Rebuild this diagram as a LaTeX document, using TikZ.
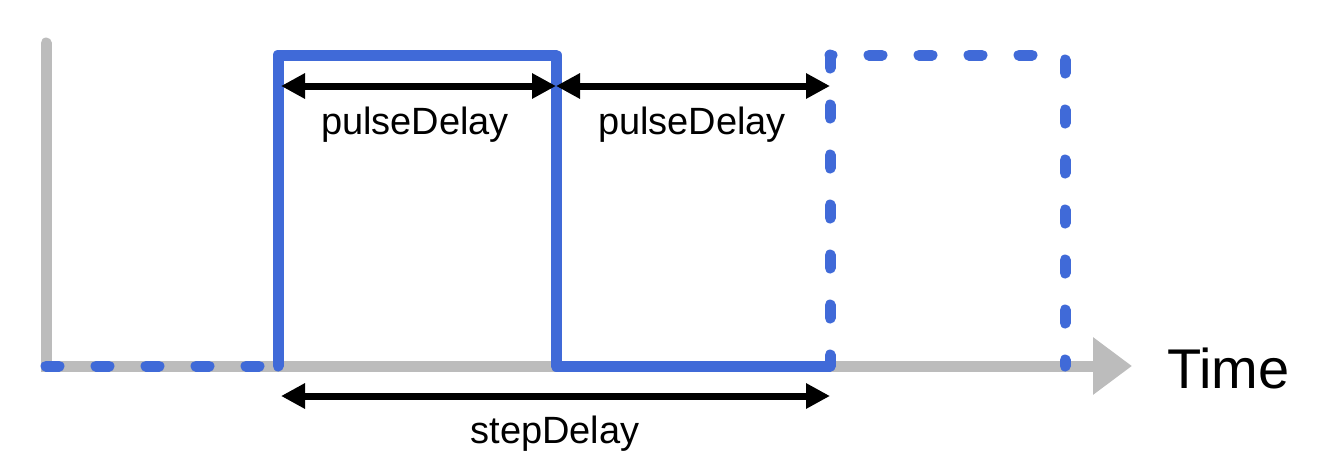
\documentclass[tikz,border=0pt]{standalone}
\usepackage{fontspec}
\setmainfont{Liberation Sans}
\usetikzlibrary{arrows.meta}
\definecolor{axisgrey}{RGB}{188,188,188}
\definecolor{pulseblue}{RGB}{64,106,216}
\begin{document}
\begin{tikzpicture}[x=1pt, y=-1pt,
            axisline/.style={line width=11pt, color=axisgrey, line cap=round, line join=miter},
            pulseline/.style={line width=11pt, color=pulseblue, line cap=round, line join=round},
            ghostline/.style={pulseline, dash pattern=on 13pt off 37pt},
            delayarrow/.style={line width=7pt, color=black,
                {Triangle[length=24pt,width=24pt]}-{Triangle[length=24pt,width=24pt]}},
            delaytext/.style={anchor=base, inner sep=0pt, font=\fontsize{38}{40}\selectfont}
    ]
    \useasboundingbox (0,0) rectangle (1344,461);

    \coordinate (top) at (46,43);
    \coordinate (o) at (46,366);
    \coordinate (tip) at (1132,366);

    \coordinate (1) at (278,366);
    \coordinate (2) at (278,55);
    \coordinate (3) at (556,55);
    \coordinate (4) at (556,366);
    \coordinate (5) at (830,366);
    \coordinate (6) at (830,55);
    \coordinate (7) at (1065,55);
    \coordinate (8) at (1065,366);

    % axes
    \draw [axisline, -{Triangle[length=39pt,width=55pt]}] (top) -- (o) -- (tip);

    % pulse
    \draw [ghostline] (o) -- (1);
    \draw [pulseline] (1) \foreach \n in {2,...,5} { -- (\n) };
    \draw [ghostline] (6) -- (5);
    \draw [ghostline, dash phase=11pt] (6) -- (7);
    \draw [ghostline, dash phase=45pt] (7) -- (8);

    % delays
    \coordinate (p1) at (281,86);
    \coordinate (p2) at (556,86);
    \coordinate (p3) at (830,86);
    \coordinate (s1) at (281,396);
    \coordinate (s2) at (830,396);

    \draw [delayarrow] (p1) -- (p2);
    \draw [delayarrow] (p2) -- (p3);
    \draw [delayarrow] (s1) -- (s2);

    \node [delaytext] (pulse1) at (415,134) {pulseDelay};
    \node [delaytext] (pulse2) at (692,134) {pulseDelay};
    \node [delaytext] (step) at (555,443) {stepDelay};
    \node [anchor=base west, inner sep=0pt, font=\fontsize{56}{60}\selectfont] (time)
        at (1167,388) {Time};
\end{tikzpicture}
\end{document}
